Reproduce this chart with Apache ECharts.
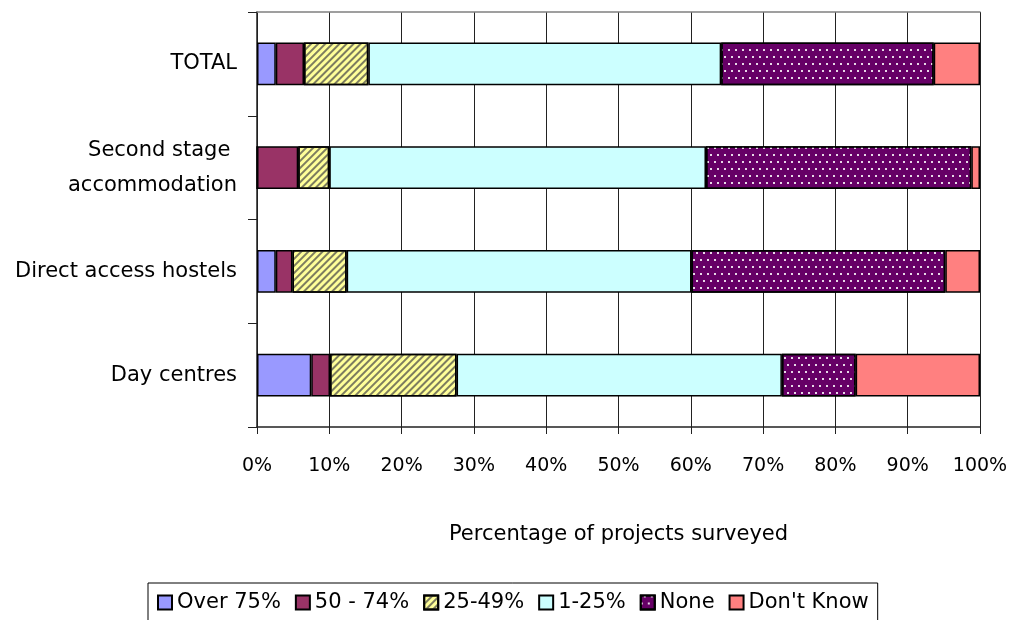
<!DOCTYPE html>
<html>
<head>
<meta charset="utf-8">
<script src="https://cdn.jsdelivr.net/npm/echarts@6/dist/echarts.min.js"></script>
<style>
html,body{margin:0;padding:0;background:#fff;}
#chart{width:1013px;height:620px;}
</style>
</head>
<body>
<div id="chart"></div>
<script>
// categories top -> bottom
var categories = ['TOTAL', 'Second stage \naccommodation', 'Direct access hostels', 'Day centres'];
var seriesNames = ['Over 75%', '50 - 74%', '25-49%', '1-25%', 'None', "Don't Know"];
// percentages
var over75   = [2.6, 0,    2.6, 7.5];
var p50to74  = [3.9, 5.7,  2.3, 2.6];
var p25to49  = [8.9, 4.3,  7.5, 17.5];
var p1to25   = [48.8, 52.1, 47.7, 45.0];
var none     = [29.4, 36.7, 35.1, 10.2];
var dontKnow = [6.4, 1.2,  4.8, 17.2];
var xTicks = [0, 10, 20, 30, 40, 50, 60, 70, 80, 90, 100];

var font = 'DejaVu Sans';
var colors = ['#9999FF', '#993366', '#FFFF99', '#CCFFFF', '#660066', '#FF8080'];
var allData = [over75, p50to74, p25to49, p1to25, none, dontKnow];

var decals = [
	null,
	null,
	{ symbol: 'rect', symbolSize: 1, dashArrayX: [1, 0], dashArrayY: [1.5, 2.5], rotation: -Math.PI / 4, color: 'rgba(70,70,70,0.7)' },
	null,
	{ symbol: 'rect', symbolSize: 1, dashArrayX: [[1.5, 5], [0, 3, 1.5, 2]], dashArrayY: [1.5, 4.5], color: 'rgba(255,255,255,0.85)' },
	null
];

var series = [];
for (var i = 0; i < seriesNames.length; i++) {
	var st = { color: colors[i], borderColor: '#000', borderWidth: 1.5 };
	if (decals[i]) st.decal = decals[i];
	series.push({
		name: seriesNames[i],
		type: 'bar',
		stack: 'all',
		barWidth: '41%',
		data: allData[i],
		itemStyle: st
	});
}

var myChart = echarts.init(document.getElementById('chart'));
var option = {
	animation: false,
	backgroundColor: '#fff',
	textStyle: { fontFamily: font },
	grid: { left: 257, right: 33, top: 12, bottom: 193, containLabel: false },
	legend: {
		data: seriesNames,
		icon: 'rect',
		left: 148,
		top: 583,
		width: 800,
		padding: [9, 9, 9, 9],
		borderColor: '#000',
		borderWidth: 1,
		backgroundColor: '#fff',
		itemWidth: 14,
		itemHeight: 14,
		itemGap: 14,
		textStyle: { fontFamily: font, fontSize: 21, color: '#000', padding: [0, 0, 0, 0] }
	},
	xAxis: [{
		type: 'value',
		min: 0,
		max: 100,
		interval: 10,
		name: 'Percentage of projects surveyed',
		nameLocation: 'middle',
		nameGap: 97,
		nameTextStyle: { fontFamily: font, fontSize: 21, color: '#000' },
		axisLine: { show: true, lineStyle: { color: '#222', width: 1.5 } },
		axisTick: { show: true, length: 7, lineStyle: { color: '#222' } },
		axisLabel: { margin: 30, fontSize: 19, color: '#000', fontFamily: font,
			formatter: function (v) { return xTicks.indexOf(v) >= 0 ? v + '%' : ''; } },
		splitLine: { show: true, lineStyle: { color: '#222', width: 1 } }
	}, {
		type: 'value',
		position: 'top',
		min: 0,
		max: 100,
		axisLine: { show: true, lineStyle: { color: '#808080', width: 1.5 } },
		axisTick: { show: false },
		axisLabel: { show: false },
		splitLine: { show: false }
	}],
	yAxis: {
		type: 'category',
		inverse: true,
		data: categories,
		axisLine: { show: true, lineStyle: { color: '#222', width: 1.5 } },
		axisTick: { show: true, length: 9, lineStyle: { color: '#222' } },
		axisLabel: { margin: 20, fontSize: 21, color: '#000', fontFamily: font, lineHeight: 35, align: 'right' }
	},
	series: series
};
myChart.setOption(option);
</script>
</body>
</html>
